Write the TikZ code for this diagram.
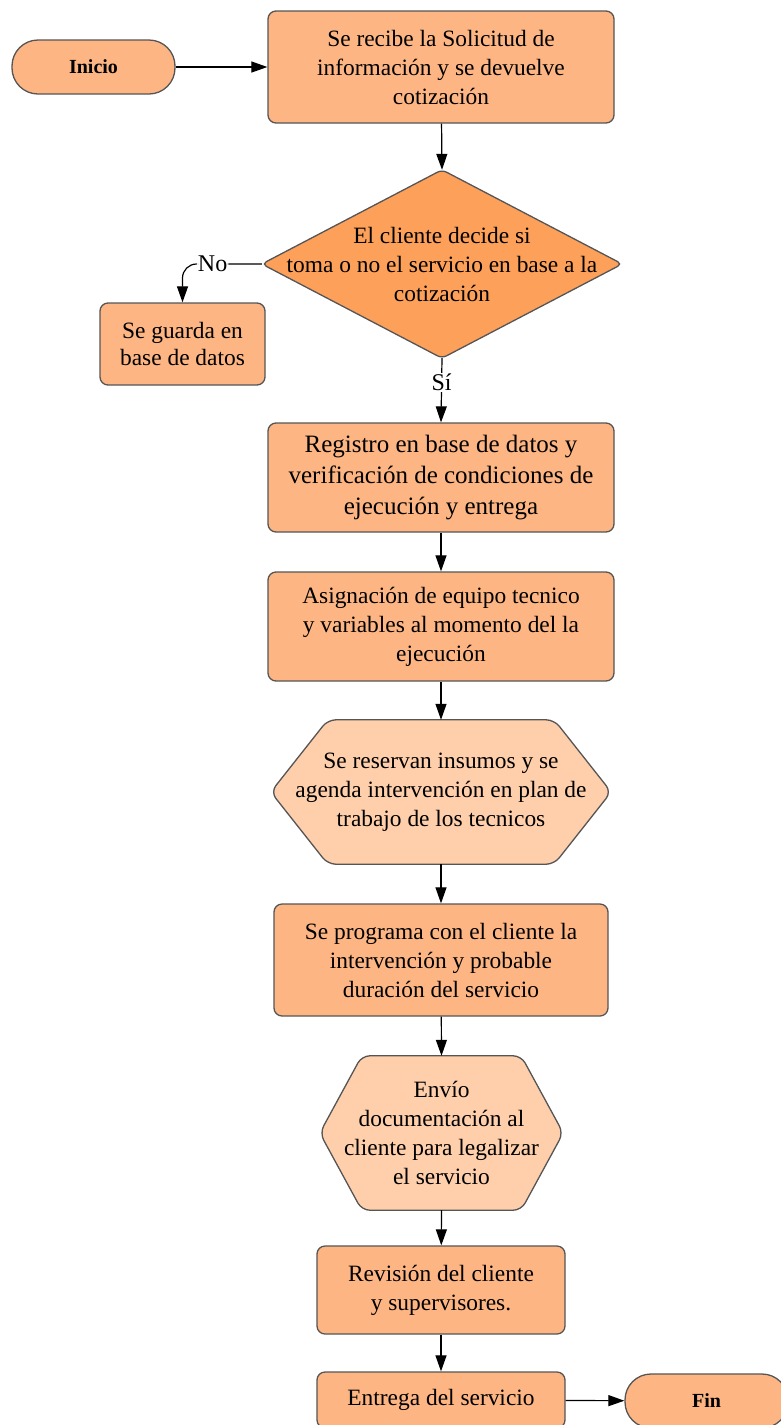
\documentclass[tikz,border=0pt]{standalone}
\usepackage{fontspec}
\setmainfont{Liberation Serif}
\usetikzlibrary{arrows.meta,backgrounds}
\definecolor{boxfill}{RGB}{253,182,131}
\definecolor{decfill}{RGB}{252,160,90}
\definecolor{hexfill}{RGB}{254,207,170}
\definecolor{bordercol}{RGB}{85,85,85}
\begin{document}
\begin{tikzpicture}[x=1pt,y=-1pt,
  txt/.style={font=\fontsize{23.4}{29}\selectfont, align=center, inner sep=0pt},
  procbox/.style={txt, draw=bordercol, line width=1.3pt, fill=boxfill, rounded corners=8pt},
  termbox/.style={procbox, font=\fontsize{20}{24}\selectfont\bfseries, rounded corners=26pt, minimum width=163pt, minimum height=54pt},
  shapeline/.style={draw=bordercol, line width=1.3pt},
  lbl/.style={font=\fontsize{24}{28}\selectfont, fill=white, inner sep=1pt},
  arr/.style={-{Triangle[length=16pt,width=11pt]}, line width=1.2pt}]
\useasboundingbox (0,0) rectangle (781,1425);
\clip (0,0) rectangle (781,1425);

\node[termbox] (inicio) at (93.5,67) {Inicio};
\node[procbox, minimum width=346pt, minimum height=112pt] (b1) at (441,67)
  {Se recibe la Solicitud de\\información y se devuelve\\cotización};
\node[txt, minimum width=360pt, minimum height=188pt] (dec) at (442,264)
  {El cliente decide si\\toma o no el servicio en base a la\\cotización};
\node[procbox, minimum width=165pt, minimum height=82pt, font=\fontsize{23.4}{27}\selectfont] (guarda) at (182.5,344)
  {Se guarda en\\base de datos};
\node[procbox, minimum width=346pt, minimum height=109pt, font=\fontsize{25}{31}\selectfont] (reg) at (441,477.5)
  {Registro en base de datos y\\verificación de condiciones de\\ejecución y entrega};
\node[procbox, minimum width=346pt, minimum height=109pt] (asig) at (441,626.5)
  {Asignación de equipo tecnico\\y variables al momento del la\\ejecución};
\node[txt, minimum width=340pt, minimum height=144pt] (hexa) at (441,792)
  {Se reservan insumos y se\\agenda intervención en plan de\\trabajo de los tecnicos};
\node[procbox, minimum width=334pt, minimum height=112pt] (prog) at (441,960)
  {Se programa con el cliente la\\intervención y probable\\duración del servicio};
\node[txt, minimum width=243pt, minimum height=154pt] (hexb) at (441.5,1133)
  {Envío\\documentación al\\cliente para legalizar\\el servicio};
\node[procbox, minimum width=248pt, minimum height=88pt] (rev) at (441,1290)
  {Revisión del cliente\\y supervisores.};
\node[procbox, minimum width=248pt, minimum height=56pt] (ent) at (441,1400)
  {Entrega del servicio};
\node[termbox] (fin) at (706.5,1401) {Fin};

\begin{scope}[on background layer]
  \path[shapeline, fill=decfill, rounded corners=5pt]
    (dec.north) -- (dec.east) -- (dec.south) -- (dec.west) -- cycle;
  \path[shapeline, fill=hexfill, rounded corners=8pt]
    (hexa.west) -- ([xshift=57pt]hexa.north west) -- ([xshift=-57pt]hexa.north east)
    -- (hexa.east) -- ([xshift=-57pt]hexa.south east) -- ([xshift=57pt]hexa.south west) -- cycle;
  \path[shapeline, fill=hexfill, rounded corners=8pt]
    (hexb.west) -- ([xshift=42pt]hexb.north west) -- ([xshift=-42pt]hexb.north east)
    -- (hexb.east) -- ([xshift=-42pt]hexb.south east) -- ([xshift=42pt]hexb.south west) -- cycle;
\end{scope}

\draw[arr] (inicio) -- (b1);
\draw[arr] (b1) -- (dec.north);
\draw[arr, rounded corners=14pt] (dec.west) -| node[lbl, pos=0.31] {No} (guarda.north);
\draw[arr] (dec.south) -- node[lbl, pos=0.38] {Sí} (reg.north);
\draw[arr] (reg) -- (asig);
\draw[arr] (asig) -- (hexa.north);
\draw[arr] (hexa.south) -- (prog);
\draw[arr] (prog) -- (hexb.north);
\draw[arr] (hexb.south) -- (rev);
\draw[arr] (rev) -- (ent);
\draw[arr] (ent) -- (fin);
\end{tikzpicture}
\end{document}
